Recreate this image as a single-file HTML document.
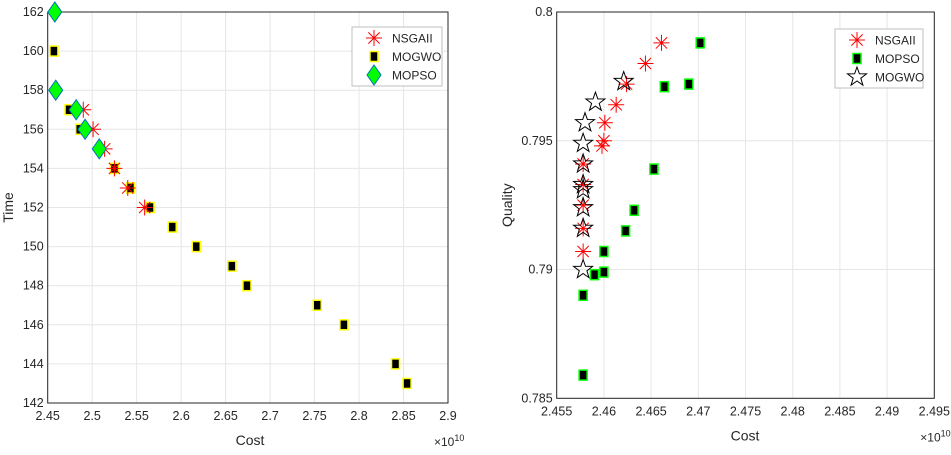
<!DOCTYPE html>
<html><head><meta charset="utf-8"><style>
html,body{margin:0;padding:0;background:#fff;}
svg{display:block;font-family:"Liberation Sans",sans-serif;}
</style></head><body>
<svg id="fig" width="951" height="455" viewBox="0 0 951 455"></svg>
<script>
// ---- Left chart data (Time vs Cost, cost in 1e10) ----
const leftXTicks = [2.45,2.5,2.55,2.6,2.65,2.7,2.75,2.8,2.85,2.9];
const leftXTickLabels = ["2.45","2.5","2.55","2.6","2.65","2.7","2.75","2.8","2.85","2.9"];
const leftYTicks = [142,144,146,148,150,152,154,156,158,160,162];
const leftNsgaCost = [2.490,2.501,2.514,2.525,2.540,2.559];
const leftNsgaTime = [157,156,155,154,153,152];
const leftMogwoCost = [2.457,2.474,2.486,2.525,2.543,2.565,2.590,2.617,2.657,2.674,2.753,2.783,2.841,2.854];
const leftMogwoTime = [160,157,156,154,153,152,151,150,149,148,147,146,144,143];
const leftMopsoCost = [2.458,2.459,2.482,2.492,2.508];
const leftMopsoTime = [162,158,157,156,155];
// ---- Right chart data (Quality vs Cost) ----
const rightXTicks = [2.455,2.46,2.465,2.47,2.475,2.48,2.485,2.49,2.495];
const rightXTickLabels = ["2.455","2.46","2.465","2.47","2.475","2.48","2.485","2.49","2.495"];
const rightYTicks = [0.785,0.79,0.795,0.8];
const rightYTickLabels = ["0.785","0.79","0.795","0.8"];
const rightNsgaCost = [2.4661,2.4644,2.4624,2.4613,2.4601,2.4598,2.4600,2.4578,2.4578,2.4578,2.4578,2.4578];
const rightNsgaQual = [0.7988,0.7980,0.7972,0.7964,0.7957,0.7948,0.7950,0.7941,0.7933,0.7925,0.7916,0.7907];
const rightMopsoCost = [2.4702,2.4690,2.4664,2.4653,2.4632,2.4623,2.4600,2.4600,2.4590,2.4578,2.4578];
const rightMopsoQual = [0.7988,0.7972,0.7971,0.7939,0.7923,0.7915,0.7907,0.7899,0.7898,0.7890,0.7859];
const rightMogwoCost = [2.4621,2.4591,2.4580,2.4578,2.4578,2.4578,2.4578,2.4578,2.4578,2.4578];
const rightMogwoQual = [0.7973,0.7965,0.7957,0.7949,0.7941,0.7933,0.7931,0.7924,0.7916,0.7900];

const NS="http://www.w3.org/2000/svg";
const svg=document.getElementById('fig');
function mk(tag,attrs,parent,text){const e=document.createElementNS(NS,tag);for(const k in attrs)e.setAttribute(k,attrs[k]);if(text!==undefined)e.textContent=text;(parent||svg).appendChild(e);return e;}
function scale(d0,d1,r0,r1){return v=>r0+(v-d0)/(d1-d0)*(r1-r0);}

function asterisk(g,x,y){
  const r=8;let d='';
  for(let i=0;i<4;i++){const a=i*Math.PI/4;d+=`M${x-r*Math.cos(a)},${y-r*Math.sin(a)}L${x+r*Math.cos(a)},${y+r*Math.sin(a)}`;}
  const p=mk('path',{d:d,stroke:'#ff0000','stroke-width':1},g);
  
  
}
function square(g,x,y,edge){
  const p=mk('rect',{x:x-4,y:y-5,width:8,height:10,fill:'#000',stroke:edge,'stroke-width':1.5},g);
  
  
}
function diamond(g,x,y){
  const p=mk('path',{d:`M${x},${y-10}L${x+7},${y}L${x},${y+10}L${x-7},${y}Z`,fill:'#00ff00',stroke:'#0072bd','stroke-width':1},g);
  
  
}
function star(g,x,y){
  const R=10,r=4;let pts=[];
  for(let i=0;i<10;i++){const a=-Math.PI/2+i*Math.PI/5;const rr=i%2?r:R;pts.push((x+rr*Math.cos(a)).toFixed(1)+','+(y+rr*Math.sin(a)).toFixed(1));}
  const p=mk('polygon',{points:pts.join(' '),fill:'none',stroke:'#000','stroke-width':1},g);
  
  
}

function axes(name,L,T,R,B,xs,ys,xt,xtl,yt,ytl,ylabel,ylabX,cx){
  const g=mk('g',{});
  
  
  xt.forEach((v,i)=>{const x=xs(v);
    mk('line',{x1:x,y1:T,x2:x,y2:B,stroke:'#e6e6e6','stroke-width':1},g);
    const t=mk('text',{x:x,y:B+17,'text-anchor':'middle','font-size':12.5,fill:'#262626'},g,xtl[i]);
    });
  yt.forEach((v,i)=>{const y=ys(v);
    mk('line',{x1:L,y1:y,x2:R,y2:y,stroke:'#e6e6e6','stroke-width':1},g);
    const t=mk('text',{x:L-4,y:y+4,'text-anchor':'end','font-size':12.5,fill:'#262626'},g,ytl[i]);
    });
  mk('rect',{x:L,y:T,width:R-L,height:B-T,fill:'none',stroke:'#262626','stroke-width':1},g);
  const xl=mk('text',{x:cx,y:B+42,'text-anchor':'middle','font-size':14,fill:'#262626'},g,'Cost');
  
  const ex=mk('text',{x:R-14,y:B+43,'text-anchor':'start','font-size':12,fill:'#262626'},g);
  
  mk('tspan',{},ex,'×10');mk('tspan',{dy:-5,'font-size':9},ex,'10');
  const yl=mk('text',{x:ylabX,y:(T+B)/2,'text-anchor':'middle','font-size':14,fill:'#262626',transform:`rotate(-90 ${ylabX} ${(T+B)/2})`},g,ylabel);
  
  return g;
}
function legend(name,x,y,w,entries){
  const g=mk('g',{});
  
  
  mk('rect',{x:x,y:y,width:w,height:59,fill:'#fff',stroke:'#bfbfbf','stroke-width':1},g);
  entries.forEach((e,i)=>{const yy=y+11+i*18.5;
    e[0](g,x+22,yy);
    const t=mk('text',{x:x+40,y:yy+4.5,'font-size':12,fill:'#262626'},g,e[1]);
    });
}

// Left
(function(){
  const L=47.7,T=12,R=448,B=403;
  const xs=scale(2.45,2.9,L,R), ys=scale(142,162,B,T);
  const g=axes('time-cost-chart',L,T,R,B,xs,ys,leftXTicks,leftXTickLabels,leftYTicks,leftYTicks.map(String),'Time',13,250);
  leftMogwoCost.forEach((c,i)=>square(g,xs(c),ys(leftMogwoTime[i]),'#ffff00'));
  leftNsgaCost.forEach((c,i)=>asterisk(g,xs(c),ys(leftNsgaTime[i])));
  leftMopsoCost.forEach((c,i)=>diamond(g,xs(c),ys(leftMopsoTime[i])));
  legend('left-legend',352,27,90,[[asterisk,'NSGAII'],[(g,x,y)=>square(g,x,y,'#ffff00'),'MOGWO'],[diamond,'MOPSO']]);
})();
// Right
(function(){
  const L=556.7,T=12,R=934.3,B=398.3;
  const xs=scale(2.455,2.495,L,R), ys=scale(0.785,0.8,B,T);
  const g=axes('quality-cost-chart',L,T,R,B,xs,ys,rightXTicks,rightXTickLabels,rightYTicks,rightYTickLabels,'Quality',512,745);
  rightMopsoCost.forEach((c,i)=>square(g,xs(c),ys(rightMopsoQual[i]),'#00ff00'));
  rightNsgaCost.forEach((c,i)=>asterisk(g,xs(c),ys(rightNsgaQual[i])));
  rightMogwoCost.forEach((c,i)=>star(g,xs(c),ys(rightMogwoQual[i])));
  legend('right-legend',835,29,88,[[asterisk,'NSGAII'],[(g,x,y)=>square(g,x,y,'#00ff00'),'MOPSO'],[star,'MOGWO']]);
})();
</script>
</body></html>
